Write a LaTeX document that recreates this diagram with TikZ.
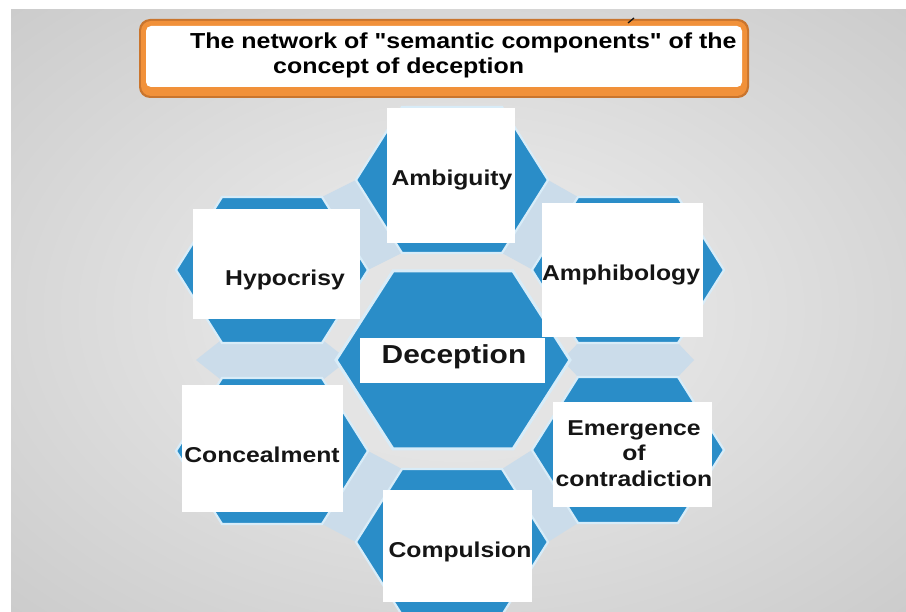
\documentclass[tikz,border=0pt]{standalone}
\usepackage{fontspec}
\setmainfont{Liberation Sans}
\usepackage{graphicx}

\definecolor{hexblue}{HTML}{2A8DC8}
\definecolor{hexrim}{HTML}{D8ECF8}
\definecolor{linkpale}{HTML}{CBDCEA}
\definecolor{titleorange}{HTML}{F1913A}
\definecolor{titleedge}{HTML}{C9752E}
\definecolor{labelink}{HTML}{151515}
\definecolor{bglight}{HTML}{E4E4E4}
\definecolor{bgdark}{HTML}{BDBDBD}

\pgfdeclareradialshading{backglow}{\pgfpoint{0bp}{0bp}}{%
  color(0bp)=(bglight); color(12bp)=(bglight); color(50bp)=(bgdark)}

% flat-topped hexagon: centre x, centre y, half width, half height, half top edge, style
\newcommand{\hexfill}[6]{%
  \filldraw[#6] (#1-#3,#2) -- (#1-#5,#2-#4) -- (#1+#5,#2-#4) -- (#1+#3,#2)
    -- (#1+#5,#2+#4) -- (#1-#5,#2+#4) -- cycle;}

% wide bold lettering
\newcommand{\wide}[1]{\scalebox{1.15}[1]{#1}}

\begin{document}
\begin{tikzpicture}[x=1pt,y=-1pt,
  hexouter/.style={fill=hexblue, draw=hexrim, line width=2.2pt},
  hexcentre/.style={fill=hexblue, draw=hexrim, line width=3pt},
  hexlink/.style={fill=linkpale, draw=none},
  whitebox/.style={fill=white, draw=none, inner sep=0pt, outer sep=0pt},
  label/.style={inner sep=0pt, text=labelink,
    font=\fontsize{21.5}{25.5}\selectfont\bfseries},
  titletext/.style={inner sep=0pt, text=black,
    font=\fontsize{21.7}{25}\selectfont\bfseries}]

\useasboundingbox (0,0) rectangle (906,612);
\clip (0,0) rectangle (906,612);

% page and grey backdrop
\fill[white] (0,0) rectangle (906,612);
\shade[shading=backglow] (11,10) rectangle (906,612);

% pale bands joining neighbouring outer hexagons
\fill[hexlink] (322,197) -- (368,270) -- (402,253) -- (356,180) -- cycle;
\fill[hexlink] (548,180) -- (502,253) -- (533,270) -- (578,197) -- cycle;
\hexfill{628}{360}{66}{19}{48}{hexlink}
\fill[hexlink] (532,450) -- (578,523) -- (548,542) -- (502,469) -- cycle;
\fill[hexlink] (368,451) -- (322,524) -- (356,542) -- (402,469) -- cycle;
\hexfill{272}{360}{76}{19}{52}{hexlink}

% outer ring of hexagons
\hexfill{452}{180}{96}{73}{50}{hexouter}
\hexfill{272}{270}{96}{73}{50}{hexouter}
\hexfill{628}{270}{96}{73}{50}{hexouter}
\hexfill{272}{451}{96}{73}{50}{hexouter}
\hexfill{628}{450}{96}{73}{50}{hexouter}
\hexfill{452}{542}{96}{73}{50}{hexouter}

% central hexagon
\hexfill{453}{360}{117}{89}{60}{hexcentre}

% white label panels
\node[whitebox, minimum width=128pt, minimum height=135pt] (ambbox)  at (451,175.5) {};
\node[whitebox, minimum width=167pt, minimum height=110pt] (hypbox)  at (276.5,264) {};
\node[whitebox, minimum width=161pt, minimum height=134pt] (amphbox) at (622.5,270) {};
\node[whitebox, minimum width=185pt, minimum height=45pt]  (decbox)  at (452.5,360.5) {};
\node[whitebox, minimum width=161pt, minimum height=127pt] (conbox)  at (262.5,448.5) {};
\node[whitebox, minimum width=159pt, minimum height=105pt] (emebox)  at (632.5,454.5) {};
\node[whitebox, minimum width=149pt, minimum height=112pt] (compbox) at (457.5,546) {};

% labels
\node[label, anchor=base] (ambtext)  at (452,186) {\wide{Ambiguity}};
\node[label, anchor=base] (hyptext)  at (285,286) {\wide{Hypocrisy}};
\node[label, anchor=base] (amphtext) at (621,281) {\wide{Amphibology}};
\node[label, anchor=base, font=\fontsize{26}{30}\selectfont\bfseries]
  (dectext) at (454,364) {\wide{Deception}};
\node[label, anchor=base] (context)  at (262,463) {\wide{Concealment}};
\node[label] (emetext) at (634,455.5)
  {\wide{\begin{tabular}{@{}c@{}}Emergence\\of\\contradiction\end{tabular}}};
\node[label, anchor=base] (comptext) at (460,558) {\wide{Compulsion}};

% title banner
\fill[titleedge] (139,19) [rounded corners=11pt] rectangle (749,98);
\fill[titleorange] (141,21) [rounded corners=10pt] rectangle (747,96);
\fill[white] (146,26) [rounded corners=5pt] rectangle (742,87);
\node[titletext, anchor=base west] (title1) at (190,49)
  {\wide{The network of \textquotedbl semantic components\textquotedbl\ of the}};
\node[titletext, anchor=base west] (title2) at (273,74)
  {\wide{concept of deception}};
\draw[labelink, line width=1.3pt] (628,23) -- (634,18);

\end{tikzpicture}
\end{document}
